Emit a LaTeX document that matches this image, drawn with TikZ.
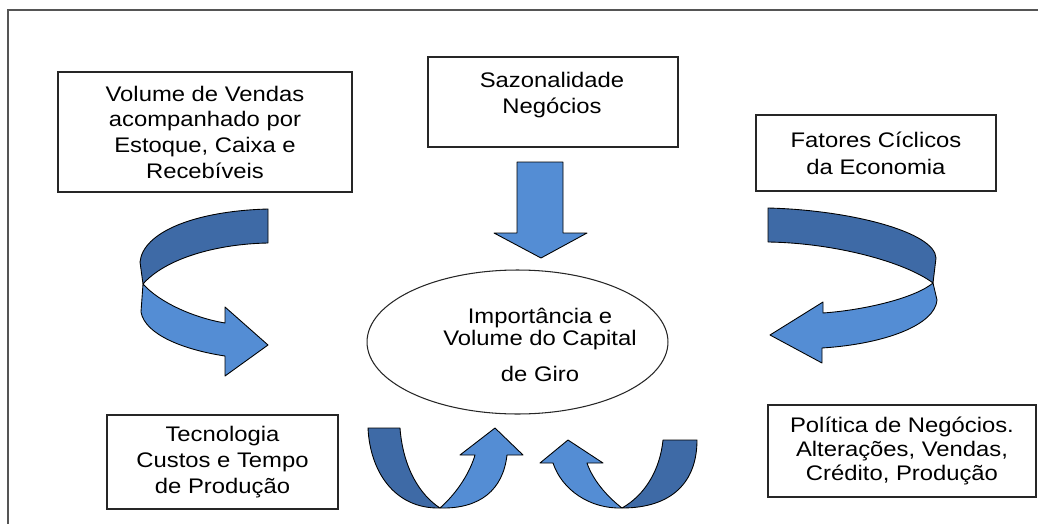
\documentclass[tikz,border=0pt]{standalone}
\usepackage{fontspec}
\setmainfont{Liberation Sans}[FakeStretch=1.13]
\usetikzlibrary{positioning,shapes.geometric}

\definecolor{ribbondark}{RGB}{62,106,166}
\definecolor{ribbonlight}{RGB}{84,141,212}
\definecolor{framegray}{RGB}{85,85,85}

\tikzset{
  factor/.style={draw=black!85, line width=0.8pt, align=center, inner sep=0pt,
    font=\fontsize{12}{14.6}\selectfont},
  caption/.style={align=center, inner sep=0pt, font=\fontsize{12}{14.6}\selectfont},
  ribbon/.style={draw=black, line width=0.5pt, line join=round},
}

\begin{document}
\begin{tikzpicture}[x=0.02cm, y=-0.02cm]
    \useasboundingbox (0,0) rectangle (1038,524);
    \clip (0,0) rectangle (1038,524);

    % Frame
    \draw[framegray, line width=1.4pt] (8,540) -- (8,10) -- (1060,10);

    % Factor boxes
    \node[factor, minimum width=5.88cm, minimum height=2.4cm] (vendas) at (205,132)
        {Volume de Vendas\\acompanhado por\\Estoque, Caixa e\\Recebíveis};
    \node[factor, minimum width=5cm, minimum height=1.8cm] (sazonal) at (553,102) {};
    \node[caption] (sazonaltext) at (552,95) {Sazonalidade\\Negócios};
    \node[factor, minimum width=4.8cm, minimum height=1.52cm] (ciclos) at (876,153)
        {Fatores Cíclicos\\[0.8pt]da Economia};
    \node[factor, minimum width=4.62cm, minimum height=1.88cm] (tecnologia) at (222.5,462)
        {Tecnologia\\Custos e Tempo\\de Produção};
    \node[factor, minimum width=5.36cm, minimum height=1.84cm] (politica) at (902,451)
        {Política de Negócios.\\[-1.2pt]Alterações, Vendas,\\[-1.2pt]Crédito, Produção};

    % Centre
    \node[draw=black!85, line width=0.6pt, ellipse, minimum width=6.02cm,
        minimum height=2.88cm, inner sep=0pt] (capital) at (517.5,342) {};
    \node[caption, font=\fontsize{12}{12.4}\selectfont] (capitaltext) at (540,345)
        {Importância e\\Volume do Capital\\[8.5pt]de Giro};

    % Straight arrow below Sazonalidade
    \draw[ribbon, fill=ribbonlight] (517,162) -- (563,162) -- (563,233) -- (587,233)
        -- (541,258) -- (494,233) -- (517,233) -- cycle;

    % Left ribbon
    \draw[ribbon, fill=ribbondark] (268,209) .. controls (195,211) and (143,232) .. (140,262)
        -- (143,284) .. controls (165,259) and (215,244) .. (268,243) -- cycle;
    \draw[ribbon, fill=ribbonlight] (143,284) .. controls (160,303) and (195,318) .. (225,323)
        -- (225,307) -- (268,345) -- (225,376) -- (225,356)
        .. controls (185,350) and (145,335) .. (141,312) -- cycle;

    % Right ribbon
    \draw[ribbon, fill=ribbondark] (768,208) .. controls (850,210) and (935,232) .. (936,258)
        -- (933,283) .. controls (905,262) and (835,243) .. (768,242) -- cycle;
    \draw[ribbon, fill=ribbonlight] (933,283) .. controls (915,298) and (865,310) .. (823,313)
        -- (823,302) -- (770,335) -- (822,363) -- (822,348)
        .. controls (885,344) and (935,325) .. (937,300) -- cycle;

    % Bottom left U
    \draw[ribbon, fill=ribbondark] (368,428) -- (400,428) .. controls (403,468) and (420,495) .. (440,508)
        .. controls (395,509) and (370,472) .. (368,428) -- cycle;
    \draw[ribbon, fill=ribbonlight] (440,508) .. controls (458,492) and (470,472) .. (475,455)
        -- (460,455) -- (495,428) -- (523,455) -- (507,455)
        .. controls (503,490) and (480,509) .. (440,508) -- cycle;

    % Bottom right U
    \draw[ribbon, fill=ribbondark] (663,440) -- (697,440) .. controls (697,482) and (672,508) .. (622,508)
        .. controls (645,495) and (660,470) .. (663,440) -- cycle;
    \draw[ribbon, fill=ribbonlight] (622,508) .. controls (605,495) and (592,478) .. (587,463)
        -- (603,463) -- (568,440) -- (540,463) -- (553,463)
        .. controls (562,490) and (590,509) .. (622,508) -- cycle;
\end{tikzpicture}
\end{document}
